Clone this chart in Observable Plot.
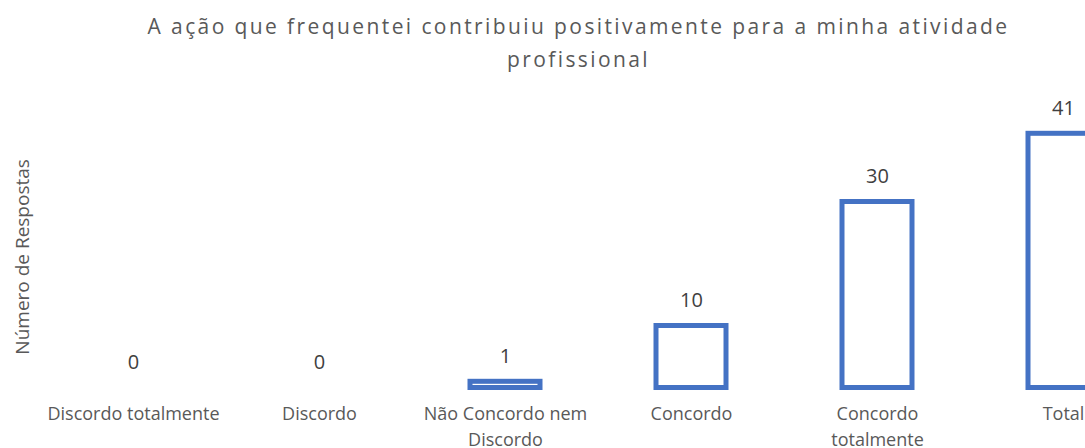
<!DOCTYPE html>
<html>
<head>
<meta charset="utf-8">
<script src="https://cdn.jsdelivr.net/npm/d3@7"></script>
<script src="https://cdn.jsdelivr.net/npm/@observablehq/plot@0.6"></script>
<style>
  html, body { margin: 0; padding: 0; background: #fff; overflow: hidden; }
  #title { height: 80px; box-sizing: border-box; padding-top: 10px; padding-left: 72px;
    text-align: center; font-family: "Open Sans", sans-serif; font-size: 21px; line-height: 33px;
    letter-spacing: 2.4px; color: #595959; }
  #chart svg { display: block; overflow: hidden; }
</style>
</head>
<body>
<div id="title">A ação que frequentei contribuiu positivamente para a minha atividade<br>profissional</div>
<div id="chart"></div>
<script>
const categories = ["Discordo totalmente", "Discordo", "Não Concordo nem Discordo", "Concordo", "Concordo totalmente", "Total"];
const tickLabels = ["Discordo totalmente", "Discordo", "Não Concordo nem\nDiscordo", "Concordo", "Concordo\ntotalmente", "Total"];
const values = [0, 0, 1, 10, 30, 41];
const yLabel = "Número de Respostas";

const data = categories.map((c, i) => ({category: c, value: values[i]}));
const labelOf = new Map(categories.map((c, i) => [c, tickLabels[i]]));

const W = 1085, H = 368;
const step = 186;
const x0 = 132.5 - step / 2;

const chart = Plot.plot({
  width: W,
  height: H,
  marginTop: 53.3,
  marginBottom: 60.5,
  marginLeft: 0,
  marginRight: 0,
  style: {fontFamily: "'Open Sans', sans-serif", background: "#fff", overflow: "hidden"},
  x: {domain: categories, type: "band", range: [x0, x0 + step * categories.length], paddingInner: 0.625, paddingOuter: 0.3125},
  y: {domain: [0, 41], axis: null},
  marks: [
    Plot.barY(data.filter(d => d.value > 0), {x: "category", y: "value", fill: "none", stroke: "#4472C4", strokeWidth: 5}),
    Plot.text(data, {x: "category", y: "value", text: d => String(d.value), dy: -25, lineAnchor: "middle", fontSize: 20, fill: "#404040"}),
    Plot.axisX({tickSize: 0, tickPadding: 14, fontSize: 18, lineHeight: 1.42, fill: "#595959", tickFormat: d => labelOf.get(d), label: null}),
    Plot.text([yLabel], {frameAnchor: "left", rotate: -90, dx: 22, dy: -4, textAnchor: "middle", fontSize: 19, fill: "#595959"})
  ]
});
document.getElementById("chart").appendChild(chart);
</script>
</body>
</html>
